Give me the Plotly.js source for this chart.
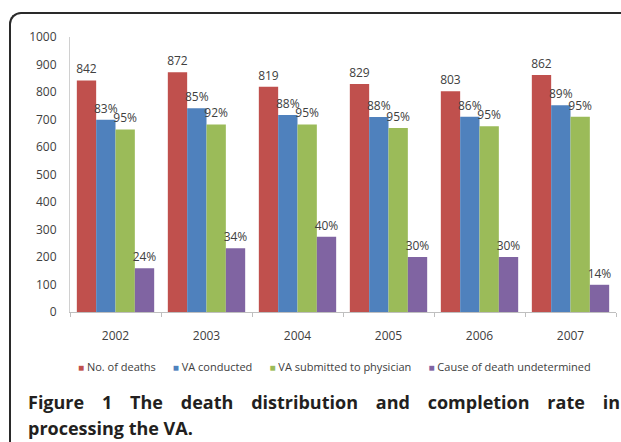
<!DOCTYPE html>
<html>
<head>
<meta charset="utf-8">
<script src="https://cdn.plot.ly/plotly-3.0.1.min.js"></script>
<style>
  html, body { margin: 0; padding: 0; background: #ffffff; }
  #wrap { position: relative; width: 621px; height: 442px; overflow: hidden; }
  #frame { position: absolute; left: 9px; top: 12px; width: 640px; height: 460px;
           border-left: 2px solid #2a2a2a; border-top: 2px solid #2a2a2a;
           border-top-left-radius: 12px; box-sizing: border-box; }
  #chart { position: absolute; left: 0; top: 0; width: 621px; height: 442px; }
  #caption { position: absolute; left: 28px; top: 389px; width: 592px;
             font-family: "Open Sans", "Noto Sans", sans-serif; font-weight: 700;
             font-size: 18px; line-height: 26px; color: #231f20; text-align: justify;
             text-align-last: left; }
  #caption .l1 { display: block; text-align: justify; text-align-last: justify; }
</style>
</head>
<body>
<div id="wrap">
  <div id="chart"></div>
  <div id="frame"></div>
  <div id="caption"><span class="l1">Figure 1 The death distribution and completion rate in</span>processing the VA.</div>
</div>
<script>
const years = ['2002', '2003', '2004', '2005', '2006', '2007'];
const deaths = [842, 872, 819, 829, 803, 862];
const vaConducted = [699, 741, 716, 709, 710, 752];
const vaSubmitted = [664, 682, 682, 669, 675, 710];
const undetermined = [159, 232, 274, 200, 200, 99];
const deathsLabels = ['842', '872', '819', '829', '803', '862'];
const conductedPct = ['83%', '85%', '88%', '88%', '86%', '89%'];
const submittedPct = ['95%', '92%', '95%', '95%', '95%', '95%'];
const undeterminedPct = ['24%', '34%', '40%', '30%', '30%', '14%'];
const seriesNames = ['No. of deaths', 'VA conducted', 'VA submitted to physician', 'Cause of death undetermined'];
const seriesColors = ['#C0504D', '#4F81BD', '#9BBB59', '#8064A2'];

const values = [deaths, vaConducted, vaSubmitted, undetermined];
const labels = [deathsLabels, conductedPct, submittedPct, undeterminedPct];

const traces = values.map((v, i) => ({
  type: 'bar',
  x: years,
  y: v,
  name: seriesNames[i],
  marker: { color: seriesColors[i], line: { width: 0 } },
  text: labels[i],
  textposition: 'outside',
  textangle: 0,
  constraintext: 'none',
  cliponaxis: false,
  textfont: { family: 'Open Sans, sans-serif', size: 12, color: '#404040' },
  hoverinfo: 'none'
}));

// Legend drawn as one text line built from the series names and colours
const gap = '\u00A0\u00A0\u00A0\u00A0\u00A0\u00A0';
const legendText = seriesNames.map((n, i) =>
  '<span style="color:' + seriesColors[i] + ';font-size:10px">\u25A0</span>\u00A0' + n
).join(gap);

const layout = {
  width: 621,
  height: 442,
  margin: { l: 70, r: 5, t: 37, b: 130 },
  paper_bgcolor: 'rgba(0,0,0,0)',
  plot_bgcolor: 'rgba(0,0,0,0)',
  barmode: 'group',
  bargap: 0.15,
  bargroupgap: 0,
  showlegend: false,
  annotations: [{
    xref: 'paper', yref: 'paper',
    x: 0.485, xanchor: 'center',
    y: -0.198, yanchor: 'middle',
    text: legendText,
    showarrow: false,
    font: { family: 'Open Sans, sans-serif', size: 11, color: '#404040' }
  }],
  xaxis: {
    type: 'category',
    showline: true,
    linecolor: '#bfbfbf',
    linewidth: 1,
    ticks: 'outside',
    tickson: 'boundaries',
    ticklen: 4,
    tickcolor: '#bfbfbf',
    showgrid: false,
    tickfont: { family: 'Open Sans, sans-serif', size: 12, color: '#404040' },
    ticklabelstandoff: 13
  },
  yaxis: {
    range: [0, 1000],
    dtick: 100,
    tick0: 0,
    showline: true,
    linecolor: '#d0d0d0',
    linewidth: 1,
    ticks: '',
    showgrid: false,
    zeroline: false,
    tickfont: { family: 'Open Sans, sans-serif', size: 12, color: '#404040' },
    ticklabelstandoff: 10
  }
};

Plotly.newPlot('chart', traces, layout, { staticPlot: true, displayModeBar: false });
</script>
</body>
</html>
